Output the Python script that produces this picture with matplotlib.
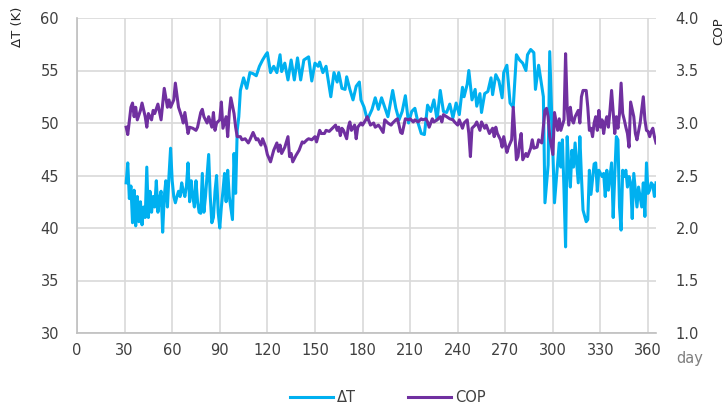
import matplotlib
matplotlib.use("Agg")
import matplotlib.pyplot as plt

plt.rcParams['font.family'] = ['DejaVu Sans']

# ---- data ----
dt_days = [31, 32, 33, 34, 35, 36, 37, 38, 39, 40, 41, 42, 43, 44, 45, 46, 47, 48, 49, 50,
           51, 52, 53, 54, 55, 56, 57, 58, 59, 60, 61, 62, 63, 64, 65, 66, 67, 68, 69, 70,
           71, 72, 73, 74, 75, 76, 77, 78, 79, 80, 81, 82, 83, 84, 85, 86, 87, 88, 89, 90,
           91, 92, 93, 94, 95, 96, 98, 99, 100, 101, 102, 103, 105, 107, 109, 111, 113, 115, 117, 119,
           120, 122, 124, 126, 128, 129, 131, 133, 135, 137, 139, 141, 143, 146, 148, 150, 152, 153, 155, 157,
           160, 162, 164, 165, 167, 169, 170, 172, 174, 176, 178, 179, 181, 183, 186, 188, 190, 192, 194, 196,
           199, 201, 203, 205, 207, 209, 211, 213, 215, 217, 219, 221, 223, 225, 227, 229, 231, 233, 235, 237,
           239, 241, 243, 244, 246, 247, 249, 251, 252, 254, 255, 257, 259, 261, 262, 264, 266, 268, 269, 271,
           273, 275, 277, 279, 281, 283, 284, 286, 288, 289, 291, 292, 294, 295, 297, 298, 301, 304, 305, 306,
           307, 308, 309, 310, 311, 312, 313, 314, 316, 317, 318, 319, 321, 322, 323, 324, 326, 327, 328, 329,
           331, 332, 333, 334, 335, 337, 338, 339, 340, 341, 342, 343, 344, 345, 346, 347, 348, 349, 350, 351,
           352, 353, 354, 356, 357, 358, 359, 360, 361, 362, 363, 364, 365]
dt_vals = [44.3, 46.2, 42.8, 44.0, 40.5, 43.6, 40.2, 43.0, 40.6, 42.5, 40.3, 42.0, 41.0, 45.8, 41.0, 43.5, 41.5, 43.0, 42.0, 44.5,
           41.5, 42.8, 43.5, 39.6, 43.0, 44.5, 42.0, 45.0, 47.6, 44.5, 43.0, 42.4, 43.0, 43.5, 43.0, 44.3, 43.5, 43.0, 44.0, 46.2,
           42.5, 44.5, 43.0, 42.0, 44.5, 42.5, 41.5, 41.4, 45.2, 41.5, 43.0, 45.0, 47.0, 43.0, 40.5, 41.0, 43.5, 45.0, 41.5, 40.0,
           42.0, 43.5, 45.2, 42.5, 45.5, 43.0, 40.8, 47.1, 43.3, 49.3, 50.6, 53.1, 54.3, 53.3, 54.8, 54.7, 54.5, 55.4, 56.0, 56.5,
           56.7, 54.8, 55.4, 54.8, 56.5, 54.9, 55.7, 54.1, 56.0, 54.1, 56.2, 54.1, 56.0, 56.3, 54.0, 55.7, 55.4, 55.8, 54.8, 55.4,
           52.5, 54.8, 53.9, 54.8, 53.3, 53.2, 54.4, 53.2, 52.2, 53.5, 53.9, 52.2, 51.5, 50.3, 51.3, 52.4, 51.3, 52.4, 51.5, 50.6,
           53.1, 51.4, 50.3, 51.1, 52.6, 50.0, 51.1, 51.4, 50.0, 49.0, 48.9, 51.7, 51.1, 52.2, 50.3, 53.1, 51.1, 51.0, 51.8, 50.5,
           51.9, 50.8, 53.4, 52.5, 53.7, 55.0, 52.2, 53.2, 51.6, 52.8, 51.0, 52.8, 53.0, 54.3, 52.7, 54.6, 54.0, 52.4, 54.8, 55.5,
           51.9, 51.5, 56.5, 56.0, 55.7, 55.0, 56.5, 57.0, 56.7, 53.2, 55.5, 54.5, 52.5, 42.4, 46.0, 56.8, 42.4, 48.1, 45.8, 48.4,
           43.6, 38.2, 48.7, 45.8, 43.9, 47.4, 45.8, 48.1, 44.3, 48.7, 44.9, 41.7, 40.6, 40.8, 45.5, 43.2, 46.1, 46.2, 43.5, 45.5,
           44.9, 45.2, 43.0, 45.5, 43.6, 46.2, 41.0, 45.0, 48.7, 48.4, 42.0, 39.8, 45.5, 44.9, 45.5, 43.9, 44.9, 44.3, 40.9, 45.2,
           43.6, 42.0, 43.9, 42.0, 44.3, 41.1, 46.2, 43.3, 43.6, 44.3, 44.1, 43.0, 44.3]

cop_days = [31, 32, 34, 35, 36, 37, 38, 40, 41, 43, 44, 45, 47, 48, 49, 51, 53, 54, 55, 57,
            58, 59, 61, 62, 64, 66, 67, 68, 70, 71, 73, 75, 76, 78, 79, 80, 82, 83, 85, 86,
            87, 88, 90, 91, 92, 94, 95, 96, 97, 99, 100, 101, 103, 104, 106, 108, 109, 111, 113, 114,
            116, 117, 119, 120, 122, 124, 126, 127, 128, 129, 131, 133, 134, 135, 136, 138, 140, 142, 143, 145,
            146, 148, 150, 151, 153, 154, 156, 157, 159, 161, 163, 164, 165, 166, 167, 168, 170, 171, 172, 173,
            175, 176, 177, 179, 180, 182, 183, 185, 187, 188, 190, 191, 193, 194, 196, 198, 199, 201, 202, 203,
            204, 205, 207, 209, 210, 212, 213, 215, 217, 218, 220, 221, 222, 224, 225, 227, 229, 230, 231, 233,
            235, 237, 238, 240, 241, 243, 244, 246, 247, 248, 249, 251, 252, 254, 255, 257, 258, 260, 262, 263,
            264, 265, 267, 268, 269, 271, 272, 274, 275, 276, 277, 278, 279, 280, 281, 283, 284, 286, 287, 288,
            290, 291, 293, 295, 296, 297, 298, 300, 301, 303, 304, 305, 307, 308, 309, 310, 311, 312, 313, 314,
            316, 317, 318, 319, 321, 322, 323, 324, 325, 326, 327, 328, 329, 330, 331, 332, 333, 334, 335, 336,
            337, 339, 340, 341, 342, 343, 344, 345, 346, 347, 348, 349, 351, 352, 353, 354, 355, 357, 358, 359,
            360, 361, 362, 363, 364, 365]
cop_vals = [2.96, 2.89, 3.15, 3.19, 3.06, 3.15, 3.03, 3.12, 3.19, 3.06, 2.96, 3.09, 3.03, 3.12, 3.09, 3.18, 3.03, 3.18, 3.33, 3.15,
            3.22, 3.15, 3.22, 3.38, 3.15, 3.06, 3.00, 3.10, 2.90, 2.96, 2.95, 2.93, 2.96, 3.10, 3.13, 3.06, 3.00, 3.06, 2.96, 3.10,
            2.93, 3.00, 3.03, 3.20, 2.95, 3.06, 2.87, 3.10, 3.24, 3.09, 2.96, 2.87, 2.87, 2.84, 2.85, 2.81, 2.84, 2.91, 2.84, 2.85,
            2.79, 2.85, 2.77, 2.70, 2.63, 2.74, 2.81, 2.73, 2.79, 2.71, 2.77, 2.87, 2.68, 2.71, 2.63, 2.69, 2.74, 2.82, 2.81, 2.84,
            2.85, 2.84, 2.87, 2.82, 2.93, 2.90, 2.90, 2.93, 2.92, 2.95, 2.98, 2.93, 2.96, 2.88, 2.95, 2.93, 2.85, 2.96, 3.01, 2.93,
            2.98, 2.85, 2.96, 3.00, 2.98, 3.03, 3.06, 2.98, 3.00, 2.96, 2.98, 2.96, 2.91, 3.03, 3.00, 2.98, 3.00, 3.03, 3.04, 2.98,
            2.91, 2.90, 3.04, 3.03, 3.04, 3.01, 3.03, 3.01, 3.04, 3.03, 3.04, 3.01, 2.96, 3.04, 3.01, 3.03, 3.06, 3.01, 3.08, 3.06,
            3.04, 3.03, 3.01, 2.98, 3.03, 2.95, 3.00, 3.03, 2.90, 2.68, 2.95, 2.98, 3.01, 2.93, 3.01, 2.95, 2.98, 2.90, 2.95, 2.87,
            2.96, 2.90, 2.84, 2.77, 2.87, 2.72, 2.77, 2.84, 3.15, 2.90, 2.65, 2.68, 2.81, 2.90, 2.65, 2.71, 2.68, 2.76, 2.84, 2.76,
            2.77, 2.84, 2.81, 3.12, 3.14, 3.06, 2.87, 2.70, 3.10, 2.93, 3.04, 2.93, 3.03, 3.66, 3.15, 2.98, 3.15, 3.03, 3.00, 3.06,
            3.12, 3.00, 3.25, 3.31, 3.31, 3.15, 2.93, 2.95, 2.87, 3.00, 3.06, 2.93, 3.12, 2.96, 3.03, 2.90, 3.00, 3.06, 2.96, 3.12,
            3.31, 2.90, 3.06, 2.95, 3.09, 3.38, 3.09, 3.03, 2.96, 2.90, 2.77, 3.20, 3.06, 2.90, 2.84, 2.92, 3.00, 3.25, 3.03, 2.93,
            2.92, 2.87, 2.92, 2.95, 2.87, 2.81]

x_ticks = [0, 30, 60, 90, 120, 150, 180, 210, 240, 270, 300, 330, 360]
dt_ticks = [30, 35, 40, 45, 50, 55, 60]
cop_ticks = [1.0, 1.5, 2.0, 2.5, 3.0, 3.5, 4.0]

BLUE = '#00B0F0'
PURPLE = '#7030A0'
TICK = '#404040'
GRID = '#D9D9D9'

fig = plt.figure(figsize=(7.28, 4.09), dpi=100)
ax = fig.add_axes([77/728, 1-333/409, 579/728, 315/409])
ax2 = ax.twinx()

l1, = ax.plot(dt_days, dt_vals, color=BLUE, lw=2.2, solid_joinstyle='round', label='ΔT')
l2, = ax2.plot(cop_days, cop_vals, color=PURPLE, lw=2.2, solid_joinstyle='round', label='COP')

ax.set_xlim(0, 365)
ax.set_ylim(30, 60)
ax2.set_ylim(1.0, 4.0)
ax.set_xticks(x_ticks)
ax.set_yticks(dt_ticks)
ax2.set_yticks(cop_ticks)
ax2.set_yticklabels([f'{v:.1f}' for v in cop_ticks])

ax.grid(True, color=GRID, lw=1.2)
ax.set_axisbelow(True)
for a in (ax, ax2):
    for s in ('top', 'right'):
        a.spines[s].set_visible(False)
ax2.spines['left'].set_visible(False)
ax2.spines['bottom'].set_visible(False)
ax.spines['left'].set_color('#BFBFBF')
ax.spines['bottom'].set_color('#BFBFBF')
ax.spines['left'].set_linewidth(1.2)
ax.spines['bottom'].set_linewidth(1.2)

ax.tick_params(axis='y', length=0, pad=13, labelsize=10.5, labelcolor=TICK)
ax.tick_params(axis='x', length=0, pad=7, labelsize=10.5, labelcolor=TICK)
ax2.tick_params(axis='y', length=0, pad=14, labelsize=10.5, labelcolor=TICK)

fig.text(17/728, 1-7/409, 'ΔT (K)', rotation=90, ha='center', va='top', fontsize=9.5, color='#262626')
fig.text(719/728, 1-17/409, 'COP', rotation=90, ha='center', va='top', fontsize=9.5, color='#262626')
fig.text(690/728, 1-358/409, 'day', ha='center', va='center', fontsize=10.5, color='#7F7F7F')

fig.legend(handles=[l1, l2], loc='center', bbox_to_anchor=(388/728, 1-398/409), ncol=2,
           frameon=False, fontsize=10.5, handlelength=2.9, handletextpad=0.3, columnspacing=3.6,
           labelcolor=TICK)

fig.savefig('out.png', dpi=100)
